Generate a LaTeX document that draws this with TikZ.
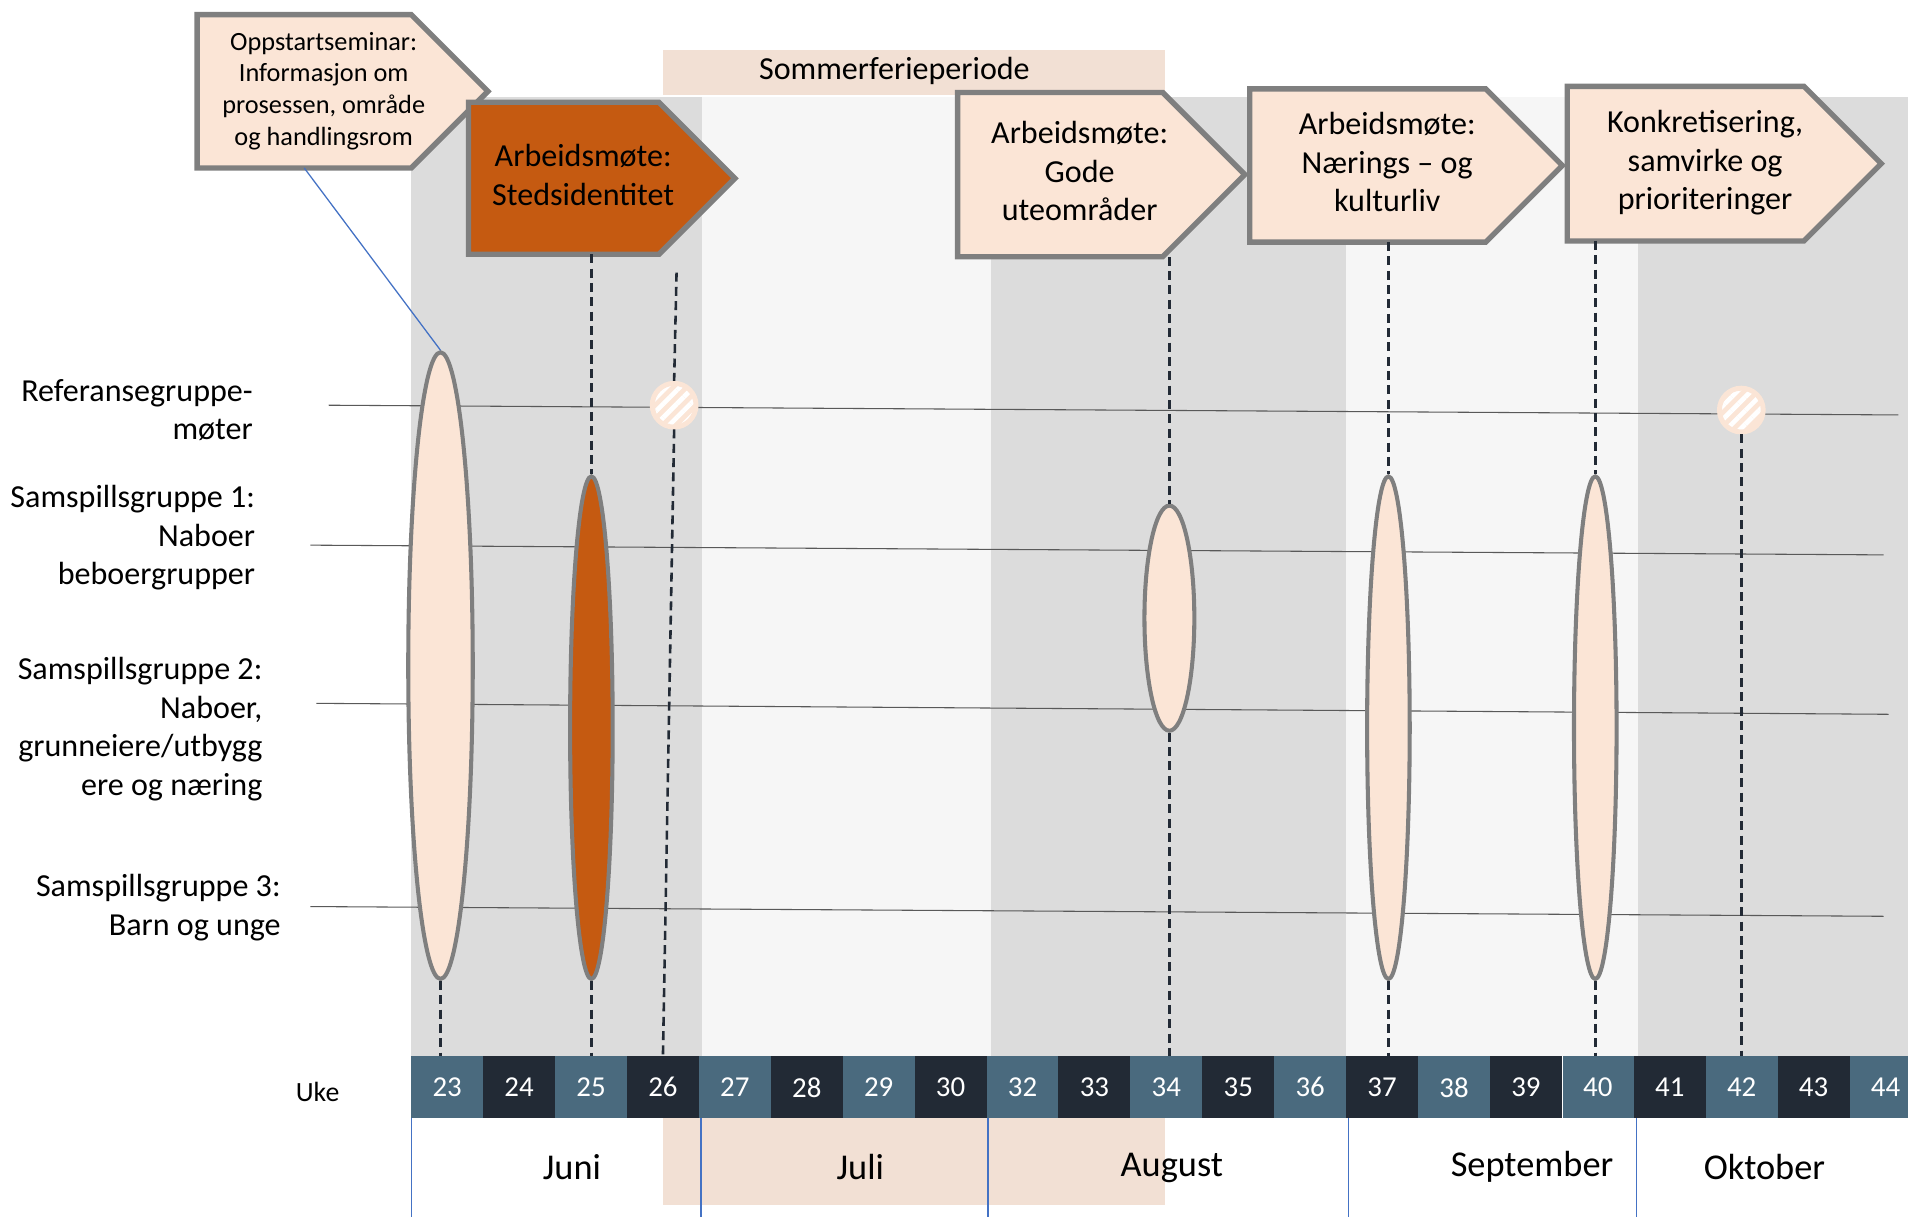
\documentclass[tikz,border=0pt]{standalone}
\usepackage{fontspec}
\setmainfont{Carlito}
\usetikzlibrary{shapes.geometric,shapes.symbols,patterns.meta}

\definecolor{peach}{HTML}{FBE5D6}
\definecolor{band}{HTML}{F2E0D4}
\definecolor{rust}{HTML}{C55A11}
\definecolor{frame}{HTML}{7F7F7F}
\definecolor{colgray}{HTML}{DCDCDC}
\definecolor{collight}{HTML}{F6F6F6}
\definecolor{slate}{HTML}{4A6A7E}
\definecolor{navy}{HTML}{222A35}
\definecolor{monthline}{HTML}{4472C4}
\definecolor{rowline}{HTML}{595959}

% text in the arrow boxes sits a bit right of the box centre
\newcommand{\boxtext}[1]{\begin{tabular}{@{\hspace{3.2mm}}c@{\hspace{-3.2mm}}}#1\end{tabular}}

\begin{document}
\begin{tikzpicture}[x=0.2mm,y=-0.2mm,
  meeting/.style={signal,signal to=east,draw=frame,line width=2.5pt,fill=peach,inner sep=0pt,outer sep=0pt,anchor=north west,font=\fontsize{15}{18}\selectfont},
  session/.style={ellipse,draw=frame,line width=1.9pt,fill=peach,inner sep=0pt},
  refmeet/.style={circle,draw=peach,line width=2.3pt,minimum size=7.2mm,inner sep=0pt,preaction={fill=peach},pattern={Lines[angle=45,distance=4.5pt,line width=2.2pt]},pattern color=white},
  link/.style={navy,line width=1.2pt,dash pattern=on 4.2pt off 2.5pt},
  grouplabel/.style={anchor=east,align=right,inner sep=0pt,font=\fontsize{15}{18}\selectfont},
  week/.style={minimum width=11.82mm,minimum height=10.2mm,inner sep=0pt,text=white,font=\fontsize{13.5}{16}\selectfont},
  month/.style={font=\fontsize{17}{20}\selectfont}]

 \useasboundingbox (0,0) rectangle (1568,1000);

 % week columns
 \fill [colgray] (338,80) rectangle (577,868);
 \fill [collight] (577,80) rectangle (814,868);
 \fill [colgray] (814,80) rectangle (1106,868);
 \fill [collight] (1106,80) rectangle (1346,868);
 \fill [colgray] (1346,80) rectangle (1568,868);

 % summer holiday
 \fill [band] (545,41) rectangle (957,78);
 \fill [band] (545,918) rectangle (957,990);
 \node (ferie) at (735,58) [font=\fontsize{15}{18}\selectfont] {Sommerferieperiode};

 % group rows
 \draw [rowline,line width=0.5pt] (270,333) -- (1560,341);
 \draw [rowline,line width=0.5pt] (255,448) -- (1548,456);
 \draw [rowline,line width=0.5pt] (260,578) -- (1552,587);
 \draw [rowline,line width=0.5pt] (255,745) -- (1548,753);

 \node (ref) at (208,337) [grouplabel] {Referansegruppe-\\møter};
 \node (grp1) at (210,442) [grouplabel] {Samspillsgruppe 1:\\Naboer\\beboergrupper};
 \node (grp2) at (216,599) [grouplabel] {Samspillsgruppe 2:\\Naboer,\\grunneiere/utbygg\\ere og næring};
 \node (grp3) at (231,746) [grouplabel] {Samspillsgruppe 3:\\Barn og unge};

 % months
 \foreach \x in {338,576,812,1108,1345}
   \draw [monthline,line width=0.6pt] (\x,868) -- (\x,1000);

 \node (juni) at (470,959) [month] {Juni};
 \node (juli) at (707,959) [month] {Juli};
 \node (aug) at (963,960) [month] {August};
 \node (sep) at (1259,959) [month] {September};
 \node (okt) at (1450,959) [month] {Oktober};

 % weeks
 \node (uke) at (261,897) [font=\fontsize{13}{16}\selectfont] {Uke};
 \foreach \w [count=\i from 0] in {23,24,25,26,27,28,29,30,32,33,34,35,36,37,38,39,40,41,42,43,44}{
   \ifodd\i \def\cellcol{navy}\else \def\cellcol{slate}\fi
   \node (w\w) at (367.5+59.1*\i,893.5) [week,fill=\cellcol] {\w};
 }
 \draw [white,line width=0.6pt] (w39.north east) -- (w39.south east);

 % meetings
 \node (ses1) at (362,547) [session,minimum width=10.6mm,minimum height=103mm] {};
 \node (ses2) at (486,598) [session,fill=rust,minimum width=7mm,minimum height=82.6mm] {};
 \node (ses3) at (961,508) [session,minimum width=8.2mm,minimum height=37mm] {};
 \node (ses4) at (1141,598) [session,minimum width=7mm,minimum height=82.6mm] {};
 \node (ses5) at (1311,598) [session,minimum width=7mm,minimum height=82.6mm] {};

 \node (ref1) at (554,333) [refmeet] {};
 \node (ref2) at (1431,337) [refmeet] {};

 \node (oppstart) at (162,12) [meeting,minimum width=47.8mm,minimum height=25.2mm,font=\fontsize{12.3}{14.8}\selectfont] {\boxtext{Oppstartseminar:\\Informasjon om\\prosessen, område\\og handlingsrom}};
 \node (steds) at (385,84) [meeting,fill=rust,minimum width=43.8mm,minimum height=25mm] {\boxtext{Arbeidsmøte:\\Stedsidentitet}};
 \node (gode) at (787,76) [meeting,minimum width=47.2mm,minimum height=27mm] {\boxtext{Arbeidsmøte:\\Gode\\uteområder}};
 \node (naerings) at (1027,73) [meeting,minimum width=51.4mm,minimum height=25.2mm] {\boxtext{Arbeidsmøte:\\Nærings – og\\kulturliv}};
 \node (konkret) at (1288,71) [meeting,minimum width=51.6mm,minimum height=25.4mm] {\boxtext{Konkretisering,\\samvirke og\\prioriteringer}};

 \coordinate (ref1top) at (556,224);

 \draw [monthline,line width=0.6pt] (oppstart.south) -- (ses1.north);
 \draw [link] (ses1.south) -- (ses1.south |- w23.north);
 \draw [link] (steds.south -| ses2.north) -- (ses2.north);
 \draw [link] (ses2.south) -- (ses2.south |- w25.north);
 \draw [link] (ref1top) -- (ref1.north);
 \draw [link] (ref1.south) -- (w26.north);
 \draw [link] (gode.south -| ses3.north) -- (ses3.north);
 \draw [link] (ses3.south) -- (ses3.south |- w34.north);
 \draw [link] (naerings.south -| ses4.north) -- (ses4.north);
 \draw [link] (ses4.south) -- (ses4.south |- w37.north);
 \draw [link] (konkret.south -| ses5.north) -- (ses5.north);
 \draw [link] (ses5.south) -- (ses5.south |- w40.north);
 \draw [link] (ref2.south) -- (ref2.south |- w42.north);
\end{tikzpicture}
\end{document}
